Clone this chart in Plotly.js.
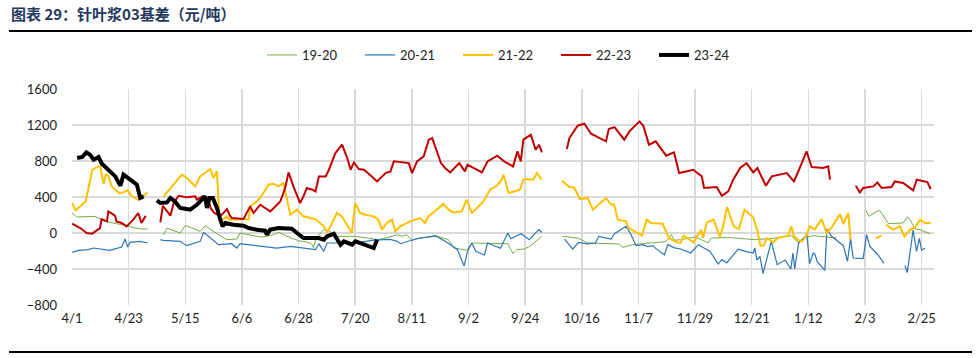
<!DOCTYPE html>
<html>
<head>
<meta charset="utf-8">
<script src="https://cdn.plot.ly/plotly-3.0.1.min.js"></script>
<style>
html,body{margin:0;padding:0;background:#fff;}
#chart{width:980px;height:358px;}
</style>
</head>
<body>
<div id="chart"></div>
<script>
// x values = days counted from 4/1 (calendar days of the contract year); null = gap
const tickDays = [0, 22, 44, 66, 88, 110, 132, 154, 176, 198, 220, 242, 264, 286, 308, 330];
const tickLabels = ["4/1","4/23","5/15","6/6","6/28","7/20","8/11","9/2","9/24","10/16","11/7","11/29","12/21","1/12","2/3","2/25"];

const seriesNames = ["19-20","20-21","21-22","22-23","23-24"];

// 19-20
const x1920 = [0,1.8,8.9,11.5,12.9,21.2,24.5,27,29.4, null,
  35.6,36.9,42,44,49.8,51.7,56.9,60.2,64,65.3,73.1,74.4,78.3,80.2,85.4,88.6,90,92.5,93.3,93.8,94.8,97.8,100.4,101.6,110.1,119,124.3,126.3,128.1,130,132,134.7,141.7,146.2,148.3,153.3,155.4,169.3,171.3,172.8,175.6,177.3,179.5,182.4, null,
  190.6,196.4,200.3,212.6,213.9,217.8,225,230.7,232.8,233.9,236.4,242.2,247.1,248.3,255,265.4,272,279.4,282.2,284,287.9,292,297, null,
  308.4,309.5,312.6,313.8,317.1,322.8,324.5,325.5,327.4,329.3,333.3];
const v1920 = [222,178,185,148,129,81,55,44,44, null,
  -19,55,0,85,18,81,-19,-74,-67,0,-44,-44,-19,7,-60,-90,-93,-111,-130,-167,-56,37,18,-37,-37,-74,-37,-19,-37,-19,-85,-56,-37,-74,-167,-190,-111,-119,-230,-185,-178,-156,-111,-37, null,
  -37,-56,-111,-122,-160,-130,-110,-96,-19,-81,-74,-44,-111,-56,-50,-74,-60,-30,-111,-56,-30,-40,-56, null,
  251,185,240,248,105,111,178,150,44,37,-8];

// 20-21
const x2021 = [0.1,2.4,6.3,8.3,14.7,19.3,20.6,21.6,22.5,26.4,29.4, null,
  34.3,35.4,42,44.6,49.8,51.1,53,56.9,62,64,65.3,79.5,84.8,94.6,95.9,97.8,99.1,110,117.1,123.6,126.3,127.6,133.4,141.2,147.1,149.7,152.3,153.6,155.3,156.8,160.2,161.4,166.4,169.3,170.4,174.5,177.6,181.3,182.5, null,
  191.3,194.5,196.8,200,203.3,204.6,209.4,210.7,215.2,216.8,219.1,221.7,223.6,225.6,226.8,230.1,231.4,234,236.4,240.3,243.3,247.8,251,252.4,254.3,258.7,262,264.6,265.2,266,267.2,268.4,271.6,273.9,277,279.2,280,280.7,282.2,284.7,285.4,286.5,287.9,288.6,289.4,292.4,293.2,295,299.6,301.2,302.4,303.4,307.3,308.6,309.9,313.1,315.3, null,
  323.5,324.4,326.7,328,329.1,330,331.3];
const v2021 = [-215,-193,-185,-167,-193,-156,-67,-156,-104,-93,-111, null,
  -74,-81,-93,-141,-93,7,-37,-130,-119,-167,-119,-167,-148,-185,-120,-204,-111,-111,-80,-70,-93,-119,-67,-30,-130,-185,-367,-204,-111,-204,-245,-111,-170,0,-63,-8,-74,37,9, null,
  -67,-178,-104,-120,-111,-37,-67,-8,74,0,-141,-130,-152,-141,-174,-241,-130,-165,-178,-222,-130,-204,-345,-296,-333,-180,-207,-222,-167,-300,-259,-452,-93,-352,-300,-400,-222,-400,-111,-40,-8,-340,-222,-237,-315,-415,45,-37,-141,-315,-60,-278,-285,-19,-150,-244,-337, null,
  -363,-440,33,-204,-60,-190,-170];

// 21-22
const x2122 = [0.1,1.4,5.3,7.9,10.9,12.3,13.1,14.1,15.4,18.6,21.6,23.1,25.7,26.8,29.3, null,
  35.6,40.8,42.7,44.6,47.9,49.8,53.7,54.9,56.3,57.3,58.9,60.2,61.2,66,68.6,69.2,71.8,73.7,76.3,78.3,80.2,82.1,83.5,84.8,87.4,89.9,94.5,97.8,99.2,102.9,104.8,108.7,110,111.9,113.9,117.1,119,120.4,122.3,124.3,125.5,127.5,131.3,135.2,137.2,138.4,140.4,142.3,144.3,146.2,148.1,151.4,153.3,155.3,157.8,159.8,162.4,165,166.9,167.6,169.6,174,175.3,176.2,179.2,180.5,182.5, null,
  190.3,193.2,195,197.3,200.3,202.3,207.4,209.4,210.5,212,215.2,216.2,219.7,221.4,223.2,224.9,229.4,231.8,234.9,236.4,237.6,239,241.4,244.3,245.1,246.6,249.2,251.6,252.9,254.4,257,259,261.2,264.5,266.1,267.4,268.5,270,272.3,274.2,278.1,279.4,280.4,282.2,283.6,285.1,286.6,288.5,291.2,293.1,295,298.3,299.6,301.5,302.4, null,
  312.3,314.5, null,
  316.2,318.9,321.6,323.3,325.5,327.4,329.4,331.3,333.5];
const v2122 = [333,251,351,703,748,548,648,637,518,437,474,414,370,390,451, null,
  407,592,648,611,518,629,711,611,685,148,155,185,148,155,148,296,351,414,537,548,518,555,370,203,259,185,155,74,7,222,185,0,333,222,203,185,148,37,111,148,18,74,129,166,111,185,229,278,326,259,229,240,370,222,296,351,481,525,592,648,444,481,592,600,592,666,592, null,
  581,511,505,377,389,259,389,314,320,148,129,55,0,-30,148,111,103,-56,-104,-111,-30,-60,-104,37,-56,118,148,-44,74,289,74,44,259,178,37,-141,-141,-56,-104,-56,-30,74,-37,-81,-93,-30,74,40,155,0,60,210,100,222,-74, null,
  -60,-28, null,
  92,37,74,-37,37,60,148,111,111];

// 22-23
const x2223 = [0.1,3.2,5.7,7.8,10.9,11.5,13.6,14.1,16.7,17.3,19.3,21.2,23.8,25.7,27,28.6, null,
  34.3,35.3,38.2,39.5,41.4,44.6,47.9,48.5,50.7,53,53.8,55.3,57.6,60.2,61.2,62.1,66.6,69.2,70.5,73.1,77,80.9,82.8,84.1,86,87.4,88.6,89.9,91.2,93.3,94.6,95.9,98.5,99.8,102.3,104.9,106.9,108.2,109.5,111.4,113.4,116,118.5,121.8,123.7,125,130.8,132.1,134,136.6,138.6,139.9,141.9,143.3,145,146.9,150.4,152.6,153.6,159.2,161.4,165.2,167.8,171.3,173,174.3,175.3,178.2,180.1,181.4,182.5, null,
  192.2,193.2,196.4,199,201.6,207.4,208.5,210.7,214.5,216.5,220.4,221.9,224.1,226.7,230.8,233.8,235.8,241.3,244.6,245.5,250.4,252.4,254.9,256.8,259.5,262,264.6,266.2,269.5,271.8,277.6,280.4,282.8,285.3,287.3,291.8,293.7,294.4, null,
  304.4,306,307.3,311.2,312.8,314.5,318.3,319.6,322.8,326.7,328.1,332.2,333.5];
const v2223 = [103,55,0,-7,55,155,130,240,192,129,111,74,148,222,111,192, null,
  118,303,192,333,414,396,407,370,407,370,278,222,185,266,200,166,155,296,222,314,240,351,500,673,518,426,333,407,500,481,462,629,629,703,888,981,833,703,785,711,703,640,573,666,685,796,777,666,796,851,1037,1055,888,777,720,673,777,685,759,673,796,859,796,740,907,796,1037,1092,925,981,896, null,
  933,1055,1192,1214,1103,1018,1155,1177,1037,1129,1240,1192,981,1018,859,896,666,703,629,500,511,414,462,592,722,777,673,722,525,629,666,573,733,907,733,722,740,592, null,
  525,451,500,518,562,500,511,573,555,474,592,566,489];

// 23-24
const x2324 = [2,4,5.6,7,8.4,10.3,11.6,14.2,16.8,18.8,20,22.6,25.2,26.5,27.8, null,
  33,34.3,36.9,38.2,40,42,44,45.9,48.5,50.5,51.7,52.4,53.4,54.7,56.3,57.6,58.5,59.5,62.7,66.6,68.6,71.8,75,75.7,77,80.2,83.5,85.4,87.4,89.9,93.3,95.8,97.8,99.1,101.7,103,104.3,105.6,107.5,108.8,110.1,112,114,117.2,118.5];
const v2324 = [833,844,896,870,814,844,770,703,629,526,648,592,537,389,407, null,
  363,333,340,389,350,278,270,259,314,370,407,278,389,389,278,148,74,111,92,81,55,37,26,-19,37,55,55,48,0,-56,-56,-56,-74,-37,-8,-67,-130,-93,-111,-130,-93,-110,-130,-167,-74];

const xs = [x1920, x2021, x2122, x2223, x2324];
const vs = [v1920, v2021, v2122, v2223, v2324];
const colors = ["#70AD47", "#2E75B6", "#FFC000", "#C00000", "#000000"];
const widths = [1, 1.2, 2, 2, 4];

const traces = seriesNames.map((n, i) => ({
  type: "scatter", mode: "lines", name: n,
  x: xs[i], y: vs[i],
  line: {color: colors[i], width: widths[i]},
  connectgaps: false, hoverinfo: "skip"
}));

const L = 72, R = 934, T = 89, B = 305, W = 980, H = 358;
const px2x = p => (p - L) / (R - L);
const py2y = p => (B - p) / (B - T);

const layout = {
  width: W, height: H,
  margin: {l: L, r: W - R, t: T, b: H - B},
  paper_bgcolor: "#fff", plot_bgcolor: "#fff",
  showlegend: true,
  title: {
    text: "图表 29：针叶浆03基差（元/吨）",
    x: 11 / W, xref: "container", xanchor: "left",
    y: 1 - 15 / H, yref: "container", yanchor: "middle",
    font: {family: "Noto Sans CJK SC, sans-serif", size: 15, color: "#25385E", weight: "bold"}
  },
  legend: {
    orientation: "h", x: 507 / W, xref: "container", xanchor: "center",
    y: 1 - 55 / H, yref: "container", yanchor: "middle",
    entrywidth: 53, entrywidthmode: "pixels",
    font: {family: "Lato, sans-serif", size: 13, color: "#222"},
    bgcolor: "rgba(0,0,0,0)"
  },
  xaxis: {
    range: [0, 334.8], tickmode: "array", tickvals: tickDays, ticktext: tickLabels,
    showgrid: true, gridcolor: "#d9d9d9", gridwidth: 1.5,
    zeroline: false, showline: false, ticks: "",
    tickfont: {family: "Lato, sans-serif", size: 13, color: "#222"},
    ticklabelstandoff: 4, fixedrange: true
  },
  yaxis: {
    range: [-800, 1600], dtick: 400, tick0: 0,
    showgrid: true, gridcolor: "#d9d9d9", gridwidth: 1.5,
    zeroline: false, showline: false, ticks: "",
    tickfont: {family: "Lato, sans-serif", size: 13, color: "#222"},
    ticklabelstandoff: 14, fixedrange: true
  },
  shapes: [
    {type: "line", xref: "paper", yref: "paper", x0: px2x(9), x1: px2x(972), y0: py2y(31), y1: py2y(31), line: {color: "#000", width: 2}},
    {type: "line", xref: "paper", yref: "paper", x0: px2x(9), x1: px2x(972), y0: py2y(352), y1: py2y(352), line: {color: "#000", width: 2}}
  ]
};

Plotly.newPlot("chart", traces, layout, {displayModeBar: false, staticPlot: true});
</script>
</body>
</html>
